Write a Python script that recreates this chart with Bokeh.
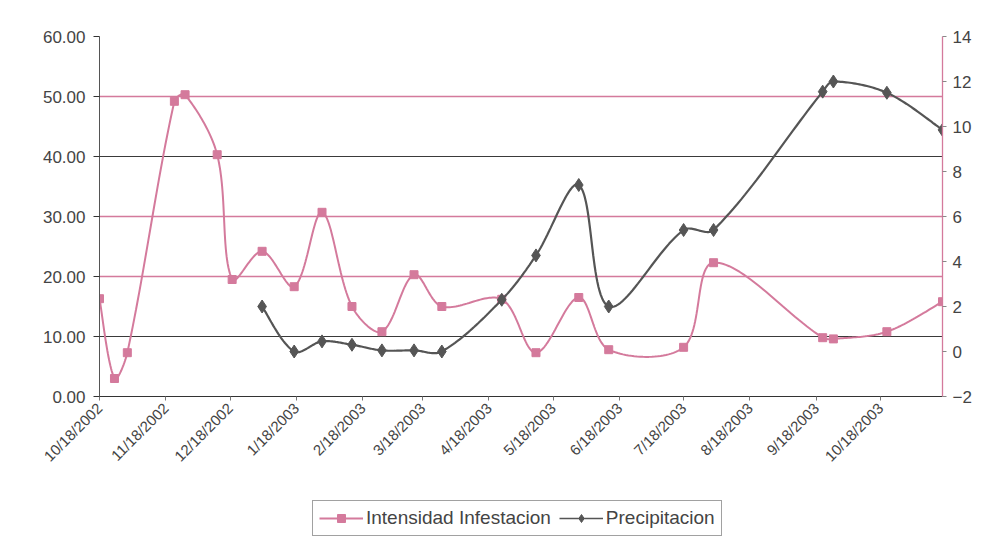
import numpy as np
import pandas as pd
from bokeh.plotting import figure
from bokeh.layouts import column
from bokeh.models import (Range1d, LinearAxis, FixedTicker, Grid, Legend, LegendItem,
                          NumeralTickFormatter)
from bokeh.embed import file_html
from bokeh.resources import INLINE

# ---------------- data ----------------
origin = "2002-10-18"
dates = ["2002-10-18", "2002-10-25", "2002-10-31", "2002-11-22", "2002-11-27",
         "2002-12-12", "2002-12-19", "2003-01-02", "2003-01-17", "2003-01-30",
         "2003-02-13", "2003-02-27", "2003-03-14", "2003-03-27", "2003-04-24",
         "2003-05-10", "2003-05-30", "2003-06-13", "2003-07-18", "2003-08-01",
         "2003-09-21", "2003-09-26", "2003-10-21", "2003-11-16"]
intensidad = [16.3, 3.0, 7.3, 49.2, 50.3, 40.3, 19.5, 24.2, 18.3, 30.7, 15.0, 10.8,
              20.3, 15.0, 16.2, 7.3, 16.5, 7.8, 8.2, 22.3, 9.8, 9.6, 10.8, 15.8]
precip_dates = dates[7:]
precipitacion = [2.0, 0.0, 0.45, 0.3, 0.05, 0.05, 0.0, 2.3, 4.27, 7.4, 2.0, 5.4, 5.4,
                 11.55, 12.0, 11.5, 9.85]
tick_dates = ["2002-10-18", "2002-11-18", "2002-12-18", "2003-01-18", "2003-02-18",
              "2003-03-18", "2003-04-18", "2003-05-18", "2003-06-18", "2003-07-18",
              "2003-08-18", "2003-09-18", "2003-10-18"]
x_end_date = "2003-11-16"
left_ticks = [0, 10, 20, 30, 40, 50, 60]
right_ticks = [-2, 0, 2, 4, 6, 8, 10, 12, 14]
series_names = ["Intensidad Infestacion", "Precipitacion"]

PINK = "#d47a9c"
DARK = "#555555"
TXT = "#444444"
FONT = "Liberation Sans"

def days(ds):
    t0 = pd.Timestamp(origin)
    return [int((pd.Timestamp(d) - t0).days) for d in ds]

def smooth(xs, ys, sx, sy, n=30):
    """Cardinal spline with chord-length scaled tangents (Excel-like smoothing).
    sx, sy: approximate pixel scale, used only for measuring chord lengths."""
    P = np.column_stack([np.asarray(xs, float), np.asarray(ys, float)])
    N = len(P)
    S = np.array([sx, sy])
    L = [np.hypot(*((P[i + 1] - P[i]) * S)) for i in range(N - 1)]
    out = [P[0]]
    t = np.linspace(0, 1, n)[1:, None]
    for i in range(N - 1):
        if i > 0:
            m0 = (P[i + 1] - P[i - 1]) * (L[i] / (L[i - 1] + L[i])) / 3.0
        else:
            m0 = (P[i + 1] - P[i]) / 6.0
        if i + 2 < N:
            m1 = (P[i + 2] - P[i]) * (L[i] / (L[i] + L[i + 1])) / 3.0
        else:
            m1 = (P[i + 1] - P[i]) / 6.0
        c1 = P[i] + m0
        c2 = P[i + 1] - m1
        seg = ((1 - t) ** 3) * P[i] + 3 * ((1 - t) ** 2) * t * c1 + 3 * (1 - t) * t ** 2 * c2 + t ** 3 * P[i + 1]
        out.extend(seg)
    out = np.array(out)
    return out[:, 0], out[:, 1]

xi = days(dates)
xp = days(precip_dates)
xt = days(tick_dates)
xend = days([x_end_date])[0]

p = figure(width=977, height=480, output_backend="svg", toolbar_location=None,
           x_range=Range1d(0, xend), y_range=Range1d(0, 60),
           min_border_left=99, min_border_top=36, min_border_right=35,
           min_border_bottom=84)
p.outline_line_color = None
p.background_fill_color = "white"
p.border_fill_color = "white"
p.xgrid.visible = False
p.ygrid.visible = False
p.extra_y_ranges = {"right": Range1d(-2, 14)}

# grids (alternating colours as in the scanned original)
p.add_layout(Grid(dimension=1, ticker=FixedTicker(ticks=[20, 30, 50]),
                  grid_line_color=PINK, grid_line_width=1.3))
p.add_layout(Grid(dimension=1, ticker=FixedTicker(ticks=[10, 40, 60]),
                  grid_line_color="#3a3a3a", grid_line_width=1.2))

# axes
xa = p.xaxis[0]
xa.ticker = FixedTicker(ticks=xt)
xa.major_label_overrides = {d: f"{pd.Timestamp(s).month}/{pd.Timestamp(s).day}/{pd.Timestamp(s).year}"
                            for d, s in zip(xt, tick_dates)}
xa.major_label_orientation = np.pi / 4
xa.major_label_text_font = FONT
xa.major_label_text_font_size = "15px"
xa.major_label_text_color = TXT
xa.axis_line_color = "#333333"
xa.major_tick_line_color = "#777777"
xa.major_tick_in = 0
xa.major_tick_out = 4
xa.minor_tick_line_color = None

ya = p.yaxis[0]
ya.ticker = FixedTicker(ticks=left_ticks)
ya.formatter = NumeralTickFormatter(format="0.00")
ya.major_label_text_font = FONT
ya.major_label_text_font_size = "17px"
ya.major_label_text_color = TXT
ya.axis_line_color = "#555555"
ya.major_tick_line_color = "#333333"
ya.major_tick_in = 0
ya.major_tick_out = 6
ya.minor_tick_line_color = None
ya.major_label_standoff = 8

ra = LinearAxis(y_range_name="right", ticker=FixedTicker(ticks=right_ticks))
ra.major_label_text_font = FONT
ra.major_label_text_font_size = "17px"
ra.major_label_text_color = TXT
ra.axis_line_color = PINK
ra.axis_line_width = 1.3
ra.major_tick_line_color = "#888888"
ra.major_tick_in = 0
ra.major_tick_out = 4
ra.minor_tick_line_color = None
ra.major_label_standoff = 6
p.add_layout(ra, "right")

# series
sx, sy = smooth(xi, intensidad, 2.137, 6.0)
p.line(sx, sy, line_color=PINK, line_width=2)
p.scatter(xi, intensidad, marker="square", size=8, fill_color=PINK, line_color=PINK)

px_, py_ = smooth(xp, precipitacion, 2.137, 22.5)
p.line(px_, py_, line_color=DARK, line_width=2.2, y_range_name="right")
p.scatter(xp, precipitacion, marker="diamond", size=13, fill_color=DARK,
          line_color=DARK, y_range_name="right")

# ---------------- legend strip (separate small figure) ----------------
# its renderers hold one real data point each, but the strip's ranges keep them out of view;
# they exist only so the legend can draw its sample glyphs.
lg = figure(width=977, height=60, output_backend="svg", toolbar_location=None,
            x_range=Range1d(10000, 10001), y_range=Range1d(10000, 10001), min_border=0)
lg.axis.visible = False
lg.grid.visible = False
lg.outline_line_color = None
lg.background_fill_color = "white"
lg.border_fill_color = "white"
ll1 = lg.line(x=xi[:2], y=intensidad[:2], line_color=PINK, line_width=2)
ls1 = lg.scatter(x=xi[:1], y=intensidad[:1], marker="square", size=8, fill_color=PINK, line_color=PINK)
ll2 = lg.line(x=xp[:2], y=precipitacion[:2], line_color=DARK, line_width=1.5)
ls2 = lg.scatter(x=xp[:1], y=precipitacion[:1], marker="diamond", size=11, fill_color=DARK, line_color=DARK)

legend = Legend(items=[LegendItem(label=series_names[0], renderers=[ll1, ls1]),
                       LegendItem(label=series_names[1], renderers=[ll2, ls2])],
                orientation="horizontal", location=(213, 4))
legend.label_text_font = FONT
legend.label_text_font_size = "19px"
legend.label_text_color = TXT
legend.border_line_color = "#444444"
legend.border_line_width = 1
legend.glyph_width = 44
legend.glyph_height = 20
legend.label_standoff = 3
legend.padding = 6
legend.spacing = 8
legend.margin = 0
lg.add_layout(legend, "center")

layout = column(p, lg, spacing=0)
open("out.html", "w").write(file_html(layout, INLINE))
